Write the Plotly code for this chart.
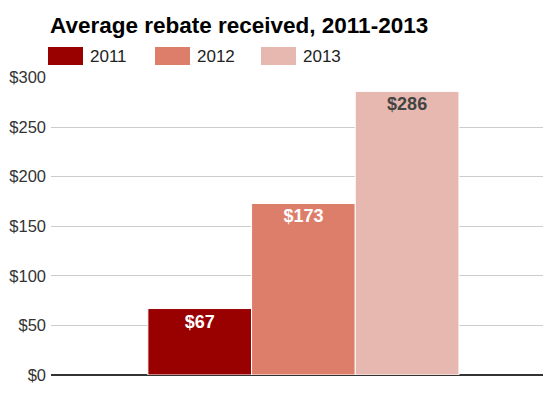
import plotly.graph_objects as go

category = ["Average rebate"]
years = ["2011", "2012", "2013"]
values = [67, 173, 286]
colors = ["#990000", "#dd7e6b", "#e6b8af"]
label_colors = ["#ffffff", "#ffffff", "#444444"]
tick_vals = [0, 50, 100, 150, 200, 250, 300]
tick_text = ["$0", "$50", "$100", "$150", "$200", "$250", "$300"]
title_text = "Average rebate received, 2011-2013"

FONT = "Liberation Sans, Arial, sans-serif"
W, H = 543, 382          # page body adds an 8px margin
PL, PT, PW, PH = 43, 69, 493, 298

fig = go.Figure()
for yr, v, c, lc in zip(years, values, colors, label_colors):
    fig.add_trace(go.Bar(
        x=category, y=[v], name=yr,
        marker=dict(color=c, line=dict(color="#ffffff", width=1)),
        text=[f"<b>${v}</b>"], textposition="inside", insidetextanchor="end",
        textangle=0,
        textfont=dict(family=FONT, size=18, color=lc),
        showlegend=False, hoverinfo="skip",
    ))

# custom legend (swatches + labels), in screen px relative to plot area
sw_x = [48, 155, 261]
for i, (yr, c) in enumerate(zip(years, colors)):
    fig.add_shape(type="rect", xref="paper", yref="paper",
                  x0=(sw_x[i] - 51) / PW, x1=(sw_x[i] + 35 - 51) / PW,
                  y0=(375 - 65) / PH, y1=(375 - 47) / PH,
                  fillcolor=c, line=dict(width=0))
    fig.add_annotation(xref="paper", yref="paper",
                       x=(sw_x[i] + 40 - 51) / PW, y=(375 - 56) / PH,
                       text=yr, showarrow=False, xanchor="left", yanchor="middle",
                       font=dict(family=FONT, size=17, color="#222222"))

fig.add_annotation(xref="paper", yref="paper",
                   x=(48 - 51) / PW, y=(375 - 25) / PH,
                   text=f"<b>{title_text}</b>", showarrow=False,
                   xanchor="left", yanchor="middle",
                   font=dict(family=FONT, size=22.5, color="#000000"))

fig.update_layout(
    width=W, height=H,
    margin=dict(l=PL, r=W - PL - PW, t=PT, b=H - PT - PH, autoexpand=False),
    paper_bgcolor="white", plot_bgcolor="white",
    barmode="group", bargap=0.369, bargroupgap=0,
    xaxis=dict(showticklabels=False, showgrid=False, range=[-0.512, 0.488],
               zeroline=False, showline=False, ticks=""),
    yaxis=dict(range=[0, 300.5], tickvals=tick_vals, ticktext=tick_text,
               showgrid=True, gridcolor="#cccccc", gridwidth=1,
               zeroline=True, zerolinecolor="#333333", zerolinewidth=1.5,
               tickfont=dict(family=FONT, size=16.5, color="#333333"),
               ticks="", ticklabelstandoff=4, showline=False),
)

fig.write_html("out.html")
